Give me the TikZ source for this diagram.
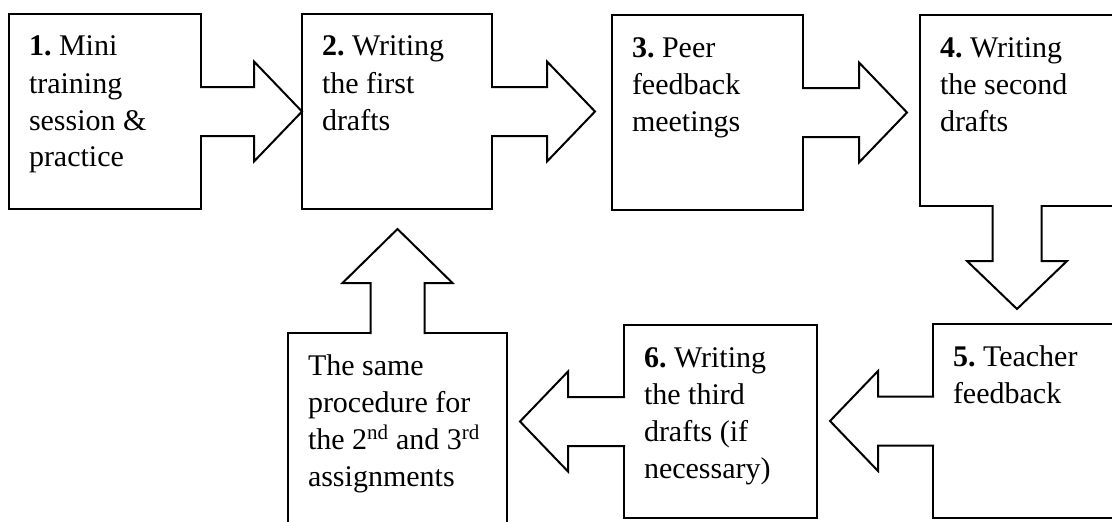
\documentclass[tikz,border=0pt]{standalone}
\usepackage{fontspec}
\setmainfont{Liberation Serif}
\usetikzlibrary{calc}
\frenchspacing

\tikzset{
  tip gap/.store in=\tipgap, tip gap=0pt,
  head length/.store in=\headlen, head length=48pt,
  shaft width/.store in=\shaftw, shaft width=24.5pt,
  head width/.store in=\headw, head width=50pt,
}

\begin{document}
\begin{tikzpicture}[x=1pt, y=-1pt,
   stepbox/.style={draw, line width=2pt, inner xsep=20pt, inner ysep=0pt,
     outer sep=0pt, text height=42pt, align=flush left,
     font=\fontsize{30}{37}\selectfont},
   blockarrow/.style={draw, fill=white, line width=2pt,
     to path={
       let \p1=(\tikztostart), \p2=(\tikztotarget),
           \p3=($(\p2)!\tipgap!(\p1)$),
           \p4=($(\p2)!\tipgap+\headlen!(\p1)$),
           \p5=($(\p1)!-1pt!(\p2)$) in
       ($(\p5)!\shaftw!90:(\p2)$)
       -- ($(\p4)!\shaftw!-90:(\p1)$)
       -- ($(\p4)!\headw!-90:(\p1)$)
       -- (\p3)
       -- ($(\p4)!\headw!90:(\p1)$)
       -- ($(\p4)!\shaftw!90:(\p1)$)
       -- ($(\p5)!\shaftw!-90:(\p2)$)}}]

\useasboundingbox (0,0) rectangle (1112,522);
\clip (0,0) rectangle (1112,522);

% top row
\node[stepbox, text width=152pt, text depth=153pt] (b1) at (105,111.5)
     {\textbf{1.} Mini\\training\\session \&\\practice};
\node[stepbox, text width=150pt, text depth=153pt] (b2) at (397,111.5)
     {\textbf{2.} Writing\\the first\\drafts};
\node[stepbox, text width=151pt, text depth=153pt] (b3) at (707.5,112.5)
     {\textbf{3.} Peer\\feedback\\meetings};
\node[stepbox, text width=154pt, text depth=149pt] (b4) at (1017,110.5)
     {\textbf{4.} Writing\\the second\\drafts};

% bottom row
\node[stepbox, text width=141pt, text depth=152pt] (b5) at (1023.5,421)
     {\textbf{5.} Teacher\\feedback};
\node[stepbox, text width=153pt, text depth=151pt] (b6) at (720.5,421.5)
     {\textbf{6.} Writing\\the third\\drafts (if\\necessary)};
\node[stepbox, text width=179pt, text depth=165pt] (b7) at (397.5,436.5)
     {The same\\procedure for\\\mbox{the 2\textsuperscript{nd} and 3\textsuperscript{rd}}\\assignments};

% block arrows
\draw[blockarrow] (b1.east) to (b2.west);
\draw[blockarrow, tip gap=17pt] (b2.east) to (b3.west |- b2.east);
\draw[blockarrow, tip gap=13pt] (b3.east) to (b4.west |- b3.east);
\draw[blockarrow, tip gap=15pt] (b4.south) to (b4.south |- b5.north);
\draw[blockarrow, tip gap=13pt] (b5.west) to (b6.east |- b5.west);
\draw[blockarrow, tip gap=13pt] (b6.west) to (b6.west -| b7.east);
\draw[blockarrow, tip gap=20pt, head length=54pt, shaft width=27pt, head width=55pt]
     (b7.north) to (b7.north |- b2.south);

\end{tikzpicture}
\end{document}
